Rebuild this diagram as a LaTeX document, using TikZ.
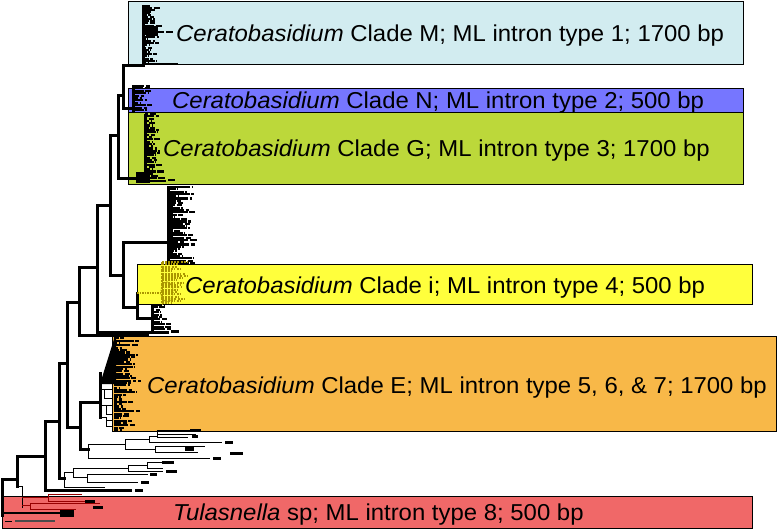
\documentclass[tikz,border=0pt]{standalone}
\usepackage{fontspec}
\setmainfont{Liberation Sans}[FakeStretch=1.04]
\definecolor{cM}{RGB}{210,236,240}
\definecolor{cN}{RGB}{118,118,255}
\definecolor{cG}{RGB}{188,216,58}
\definecolor{cI}{RGB}{255,255,60}
\definecolor{cE}{RGB}{248,184,72}
\definecolor{cT}{RGB}{240,104,104}
\definecolor{olv}{RGB}{170,150,0}
\definecolor{dred}{RGB}{150,0,0}
\tikzset{
  box/.style={draw=black, line width=0.9pt},
  bb/.style={line width=3pt, line cap=rect},
  tn/.style={line width=0.8pt},
  tip/.style={line width=2.1pt},
  olvtip/.style={olv, line width=2pt, densely dotted},
  blob/.style={fill=black},
  lab/.style={anchor=base west, inner sep=0pt, font=\fontsize{23}{27}\selectfont},
}
\newcommand\mytips[7]{%
  \foreach \i in {0,...,#3}{%
    \pgfmathsetmacro\yy{#2+\i*#4}%
    \pgfmathsetmacro\ll{#5+rnd*#6}%
    \pgfmathsetmacro\bl{rnd*7}%
    \draw[#7] (#1,\yy) -- ++(\ll,0);
    \draw[#7] (#1+\ll+1.5,\yy) -- ++(\bl,0);
  }}
\begin{document}
\begin{tikzpicture}[x=1pt,y=-1pt]
\pgfmathsetseed{11}
\useasboundingbox (0,0) rectangle (778,530);
% ---------- coloured boxes ----------
\draw[box, fill=cM] (128,1) rectangle (743,64);
\draw[box, fill=cN] (128,88) rectangle (743,112);
\draw[box, fill=cG] (128,112) rectangle (743,184);
\draw[box, fill=cI] (137,264) rectangle (752,304);
\draw[box, fill=cE] (112,336) rectangle (776,431);
\draw[box, fill=cT] (2,496) rectangle (752,528);
% ---------- backbone ----------
\coordinate (root) at (2,479);
\draw[bb] (2,479) -- (2,515);
\draw[bb] (root) -- (17,479);
\draw[bb] (17,456) -- (17,486);
\draw[bb] (17,456) -- (45,456);
\draw[bb] (45,421) -- (45,490);
\draw[bb] (45,490) -- (130,490);
\draw[bb] (45,421) -- (59,421);
\draw[bb] (59,363) -- (59,478);
\draw[bb] (59,478) -- (64,478);
\draw[bb] (59,363) -- (67,363);
\draw[bb] (67,302) -- (67,427);
\draw[bb] (67,427) -- (80,427);
\draw[bb] (80,402) -- (80,449);
\draw[bb] (80,402) -- (100,402);
\draw[bb] (100,373) -- (100,417);
\draw[bb] (80,449) -- (88,449);
\draw[bb] (67,302) -- (79,302);
\draw[bb] (79,267) -- (79,335);
\draw[bb] (79,335) -- (147,335);
\draw[bb] (79,267) -- (97,267);
\draw[bb] (97,205) -- (97,332);
\draw[bb] (97,332) -- (167,332);
\draw[bb] (97,205) -- (110,205);
\draw[bb] (110,135) -- (110,275);
\draw[bb] (110,275) -- (123,275);
\draw[bb] (123,242) -- (123,307);
\draw[bb] (123,242) -- (168,242);
\draw[bb] (123,307) -- (137,307);
\draw[bb] (137,293) -- (137,318);
\draw[bb] (137,318) -- (152,318);
\draw[bb] (110,135) -- (118,135);
\draw[bb] (118,95) -- (118,178);
\draw[bb] (118,95) -- (123,95);
\draw[bb] (123,65) -- (123,108);
\draw[bb] (123,65) -- (143,65);
\draw[bb] (123,108) -- (140,108);
\draw[bb] (118,178) -- (145,178);
% ---------- clade M ----------
\draw[bb] (143,8) -- (143,65);
\mytips{143}{8}{25}{2.2}{2}{11}{tip}
\fill[blob] (146,26) rectangle (158,36);
\fill[blob] (142,5) rectangle (150,14);
\draw[tip] (158,32) -- (164,32);
\draw[tip] (166,32) -- (173,32);
\draw[line width=2pt] (143,64) -- (178,64);
% ---------- clade N ----------
\draw[bb] (133,86) -- (133,110);
\mytips{133}{86}{10}{2.4}{2}{14}{tip}
% ---------- clade G ----------
\draw[bb] (145,115) -- (145,178);
\mytips{145}{114}{28}{2.3}{2}{10}{tip}
\fill[blob] (136,172) rectangle (150,183);
\draw[line width=2pt] (140,181) -- (166,181);
\draw[tip] (168,180) -- (175,180);
% ---------- unlabelled clade ----------
\draw[bb] (168,187) -- (168,262);
\draw[line width=3pt] (171,195) -- (171,255);
\mytips{168}{187}{33}{2.3}{4}{20}{tip}
% ---------- clade i ----------
\draw[olv, line width=1.5pt, densely dotted] (137,293) -- (160,293);
\draw[olv, line width=2.5pt, densely dotted] (162,262) -- (162,305);
\mytips{162}{262}{18}{2.3}{3}{18}{olvtip}
\draw[olv, densely dotted, line width=1.2pt] (167,292) ellipse (6 and 10);
% ---------- small clade below i ----------
\draw[bb] (152,305) -- (152,330);
\mytips{152}{305}{10}{2.4}{2}{12}{tip}
\fill[blob] (171,330) rectangle (179,333);
% ---------- clade E ----------
\fill[blob] (100,384) -- (115,336) -- (116,336) -- (116,384) -- cycle;
\mytips{114}{336}{40}{2.35}{3}{18}{tip}
\draw[line width=1.5pt] (115,381) -- (128,381);
\draw[tip, densely dashed] (128,381) -- (142,381);
\draw[tn] (100,389) -- (104,389) -- (104,398) -- (112,398);
\draw[tn] (104,389) -- (112,389);
\draw[tn] (100,405) -- (106,405) -- (106,414) -- (113,414);
\draw[tn] (106,405) -- (113,405);
\draw[tn] (100,417) -- (106,417) -- (106,426) -- (113,426);
\draw[tn] (106,420) -- (113,420);
% ---------- thin subtree 1 ----------
\draw[tn] (88,444) -- (88,458);
\draw[tn] (88,444) -- (125,444);
\draw[tn] (125,439) -- (125,449);
\draw[tn] (125,439) -- (149,439);
\draw[tn] (149,436) -- (149,442);
\draw[tn] (149,436) -- (157,436);
\draw[tn] (157,430) -- (157,437);
\draw[tn] (157,430) -- (192,430);
\draw[tn] (157,434) -- (196,434);
\draw[tn] (157,437) -- (188,437);
\fill[blob] (190,428.5) rectangle (201,431.5);
\fill[blob] (192,435) rectangle (198,438);
\draw[tn] (149,442) -- (222,442);
\fill[blob] (225,440.5) rectangle (233,443.5);
\draw[tn] (125,449) -- (155,449);
\draw[tn] (155,446) -- (155,452);
\draw[tn] (155,446) -- (205,446);
\draw[tn] (155,452) -- (198,452);
\fill[blob] (185,446) rectangle (194,451);
\fill[blob] (230,452) rectangle (243,454.5);
\draw[tn] (88,458) -- (210,458);
\fill[blob] (213,456.5) rectangle (221,459.5);
% ---------- thin subtree 2 ----------
\draw[tn] (64,472) -- (64,487);
\draw[tn] (64,472) -- (73,472);
\draw[tn] (73,468) -- (73,477);
\draw[tn] (73,468) -- (128,468);
\draw[tn] (128,465) -- (128,471);
\draw[tn] (128,465) -- (147,465);
\draw[tn] (147,462) -- (147,468);
\draw[tn] (147,462) -- (170,462);
\draw[tn] (147,468) -- (163,468);
\fill[blob] (162,460.5) rectangle (174,463.5);
\draw[tn] (128,471) -- (163,471);
\fill[blob] (166,469.5) rectangle (177,472.5);
\draw[tn] (73,477) -- (87,477);
\draw[tn] (87,474) -- (87,482);
\draw[tn] (87,474) -- (148,474);
\fill[blob] (150,472.5) rectangle (157,476);
\draw[tn] (87,482) -- (138,482);
\fill[blob] (141,480.5) rectangle (149,483.5);
\draw[tn] (64,487) -- (105,487);
\fill[blob] (135,488.5) rectangle (143,491.5);
% ---------- Tulasnella subtree ----------
\draw[tn] (17,486) -- (22,486);
\draw[tn] (22,486) -- (22,508);
\draw[tn, dred] (22,497) -- (48,497);
\draw[tn, dred] (48,494) -- (48,501);
\draw[tn, dred] (48,494) -- (82,494);
\draw[tn, dred] (48,501) -- (92,501);
\draw[tn, dred] (22,505) -- (30,505);
\draw[tn, dred] (30,503) -- (30,509);
\draw[tn, dred] (30,503) -- (100,503);
\draw[tn, dred] (30,509) -- (76,509);
\fill[blob] (85,499.5) rectangle (95,502.5);
\fill[blob] (93,505.5) rectangle (103,508.5);
\draw[line width=2.5pt] (2,513) -- (60,513);
\fill[blob] (60,510) rectangle (74,517);
\draw[tn] (5,521) -- (12,521);
\fill[black!70] (15,520) rectangle (55,522);
% ---------- labels ----------
\node[lab] (tM) at (176,41) {\textit{Ceratobasidium} Clade M; ML intron type 1; 1700 bp};
\node[lab] (tN) at (172,108) {\textit{Ceratobasidium} Clade N; ML intron type 2; 500 bp};
\node[lab] (tG) at (163,156) {\textit{Ceratobasidium} Clade G; ML intron type 3; 1700 bp};
\node[lab] (tI) at (185,293) {\textit{Ceratobasidium} Clade i; ML intron type 4; 500 bp};
\node[lab] (tE) at (147,393) {\textit{Ceratobasidium} Clade E; ML intron type 5, 6, \& 7; 1700 bp};
\node[lab] (tT) at (173,520) {\textit{Tulasnella} sp; ML intron type 8; 500 bp};
\end{tikzpicture}
\end{document}
